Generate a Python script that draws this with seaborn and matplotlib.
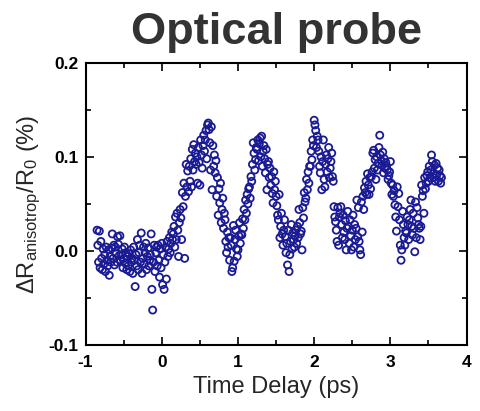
import numpy as np
import pandas as pd
import matplotlib
matplotlib.use("Agg")
import matplotlib.pyplot as plt
import seaborn as sns
from matplotlib.ticker import MultipleLocator

# ---- data ----
t_start = -0.85   # first delay (ps)
t_step = 0.01     # delay step (ps)

signal = [
    # -0.85 .. -0.76
    0.022, 0.006, -0.012, 0.021, -0.018, 0.010, -0.008, -0.020, 0.002, -0.014,
    # -0.75 .. -0.66
    -0.004, -0.022, 0.004, -0.010, -0.016, 0.001, -0.026, -0.006, -0.012, 0.003,
    # -0.65 .. -0.56
    0.018, -0.008, 0.006, -0.015, 0.004, -0.003, -0.012, 0.015, 0.007, -0.005,
    # -0.55 .. -0.46
    0.016, -0.010, -0.004, 0.002, -0.018, -0.008, 0.004, -0.013, -0.002, -0.020,
    # -0.45 .. -0.36
    -0.006, -0.016, -0.003, -0.022, 0.001, -0.012, -0.008, -0.024, 0.004, -0.010,
    # -0.35 .. -0.26
    -0.038, -0.004, -0.016, 0.012, -0.020, -0.002, 0.006, -0.012, 0.019, -0.024,
    # -0.25 .. -0.16
    -0.008, 0.004, -0.014, -0.002, 0.008, -0.020, -0.006, 0.003, -0.016, -0.010,
    # -0.15 .. -0.06
    -0.004, 0.018, -0.041, -0.063, -0.012, 0.006, -0.022, -0.002, 0.004, -0.016,
    # -0.05 .. 0.04
    0.006, -0.010, -0.028, 0.002, -0.018, 0.008, -0.036, -0.004, -0.041, -0.012,
    # 0.05 .. 0.14
    0.004, -0.030, 0.010, -0.006, 0.002, 0.014, -0.002, 0.008, 0.020, 0.012,
    # 0.15 .. 0.24
    0.018, 0.026, 0.004, 0.036, 0.012, 0.040, 0.022, -0.006, 0.030, 0.044,
    # 0.25 .. 0.34
    0.035, 0.012, 0.062, 0.047, 0.072, -0.008, 0.058, 0.092, 0.068, 0.085,
    # 0.35 .. 0.44
    0.063, 0.090, 0.074, 0.098, 0.068, 0.108, 0.086, 0.113, 0.095, 0.104,
    # 0.45 .. 0.54
    0.092, 0.100, 0.072, 0.110, 0.094, 0.070, 0.118, 0.102, 0.088, 0.112,
    # 0.55 .. 0.64
    0.123, 0.106, 0.118, 0.128, 0.098, 0.134, 0.136, 0.129, 0.115, 0.086,
    # 0.65 .. 0.74
    0.132, 0.065, 0.112, 0.090, 0.102, 0.083, 0.096, 0.058, 0.078, 0.038,
    # 0.75 .. 0.84
    0.066, 0.051, 0.072, 0.030, 0.044, 0.056, 0.024, 0.040, 0.033, 0.010,
    # 0.85 .. 0.94
    -0.002, 0.020, 0.004, 0.014, -0.010, 0.014, 0.006, -0.022, -0.018, 0.027,
    # 0.95 .. 1.04
    -0.011, 0.012, 0.022, 0.002, -0.006, 0.001, 0.016, 0.030, 0.008, 0.018,
    # 1.05 .. 1.14
    0.017, 0.034, 0.024, 0.044, 0.033, 0.054, 0.040, 0.060, 0.050, 0.066,
    # 1.15 .. 1.24
    0.068, 0.056, 0.079, 0.074, 0.092, 0.115, 0.104, 0.086, 0.097, 0.110,
    # 1.25 .. 1.34
    0.108, 0.118, 0.096, 0.114, 0.120, 0.100, 0.122, 0.090, 0.106, 0.112,
    # 1.35 .. 1.44
    0.098, 0.083, 0.108, 0.065, 0.092, 0.095, 0.078, 0.088, 0.070, 0.079,
    # 1.45 .. 1.54
    0.061, 0.051, 0.084, 0.065, 0.074, 0.058, 0.048, 0.038, 0.033, 0.060,
    # 1.55 .. 1.64
    0.014, 0.026, 0.040, 0.018, 0.006, 0.022, 0.033, 0.015, -0.002, 0.008,
    # 1.65 .. 1.74
    -0.015, 0.022, -0.022, -0.004, 0.010, 0.028, 0.002, 0.019, 0.012, 0.004,
    # 1.75 .. 1.84
    0.016, 0.022, 0.008, 0.026, 0.014, 0.044, 0.030, 0.018, 0.021, 0.001,
    # 1.85 .. 1.94
    0.046, 0.035, 0.062, 0.052, 0.056, 0.076, 0.065, 0.084, 0.072, 0.090,
    # 1.95 .. 2.04
    0.090, 0.106, 0.097, 0.118, 0.112, 0.139, 0.134, 0.128, 0.110, 0.122,
    # 2.05 .. 2.14
    0.118, 0.106, 0.090, 0.083, 0.100, 0.065, 0.095, 0.118, 0.076, 0.068,
    # 2.15 .. 2.24
    0.092, 0.102, 0.084, 0.098, 0.110, 0.078, 0.088, 0.095, 0.104, 0.079,
    # 2.25 .. 2.34
    0.074, 0.047, 0.036, 0.031, 0.022, 0.010, 0.046, 0.006, 0.036, 0.040,
    # 2.35 .. 2.44
    0.047, 0.028, 0.014, 0.038, 0.020, 0.012, 0.032, 0.001, 0.024, 0.042,
    # 2.45 .. 2.54
    0.026, 0.008, 0.033, 0.016, 0.001, 0.022, 0.038, 0.004, 0.028, 0.012,
    # 2.55 .. 2.64
    0.024, 0.054, 0.015, 0.046, 0.010, 0.001, -0.004, 0.052, 0.020, 0.058,
    # 2.65 .. 2.74
    0.044, 0.067, 0.062, 0.074, 0.060, 0.082, 0.070, 0.060, 0.078, 0.066,
    # 2.75 .. 2.84
    0.079, 0.084, 0.104, 0.107, 0.088, 0.097, 0.076, 0.100, 0.086, 0.093,
    # 2.85 .. 2.94
    0.110, 0.123, 0.102, 0.096, 0.091, 0.105, 0.083, 0.098, 0.088, 0.094,
    # 2.95 .. 3.04
    0.090, 0.086, 0.076, 0.080, 0.084, 0.095, 0.072, 0.060, 0.070, 0.058,
    # 3.05 .. 3.14
    0.064, 0.049, 0.036, 0.021, 0.068, 0.047, 0.061, 0.033, 0.006, -0.010,
    # 3.15 .. 3.24
    0.001, 0.042, 0.028, 0.014, 0.006, 0.021, 0.019, 0.036, 0.028, 0.012,
    # 3.25 .. 3.34
    0.033, 0.044, 0.054, 0.026, 0.017, 0.040, 0.024, -0.001, 0.052, 0.014,
    # 3.35 .. 3.44
    0.046, 0.035, 0.028, 0.024, 0.012, 0.026, 0.070, 0.058, 0.064, 0.040,
    # 3.45 .. 3.54
    0.078, 0.066, 0.072, 0.080, 0.084, 0.074, 0.090, 0.078, 0.086, 0.102,
    # 3.55 .. 3.67
    0.095, 0.082, 0.078, 0.091, 0.074, 0.093, 0.081, 0.088, 0.074, 0.086, 0.080, 0.072, 0.078,
]

delay = np.round(t_start + t_step * np.arange(len(signal)), 2)

x_ticks = [-1, 0, 1, 2, 3, 4]
y_ticks = [-0.1, 0.0, 0.1, 0.2]
y_tick_labels = ["-0.1", "0.0", "0.1", "0.2"]

df = pd.DataFrame({"delay": delay, "signal": signal})

# ---- style ----
sns.set_style("ticks")
plt.rcParams["font.family"] = ["Liberation Sans", "DejaVu Sans"]
plt.rcParams["mathtext.default"] = "regular"

fig = plt.figure(figsize=(4.81, 4.11), dpi=100)
ax = fig.add_axes([0.178, 0.161, 0.792, 0.686])

sns.scatterplot(data=df, x="delay", y="signal", ax=ax,
                marker="o", s=26, facecolor="none", edgecolor="#1a1a94",
                linewidth=1.3, legend=False)

ax.set_xlim(-1, 4)
ax.set_ylim(-0.1, 0.2)
ax.set_xticks(x_ticks)
ax.set_xticklabels([str(v) for v in x_ticks])
ax.set_yticks(y_ticks)
ax.set_yticklabels(y_tick_labels)
ax.xaxis.set_minor_locator(MultipleLocator(0.5))
ax.yaxis.set_minor_locator(MultipleLocator(0.05))

ax.tick_params(which="both", direction="in", top=True, right=True,
               width=1.2, colors="black")
ax.tick_params(which="major", length=6, labelsize=12.5)
ax.tick_params(axis="x", which="major", pad=7)
ax.tick_params(axis="y", which="major", pad=5)
ax.tick_params(which="minor", length=3.5)
for lab in ax.get_xticklabels() + ax.get_yticklabels():
    lab.set_fontweight("bold")
for sp in ax.spines.values():
    sp.set_visible(True)
    sp.set_linewidth(1.5)
    sp.set_color("black")

ax.set_xlabel("Time Delay (ps)", fontsize=17, labelpad=5)
ax.set_ylabel(r"$\Delta$R$_{anisotrop}$/R$_{0}$ (%)", fontsize=17, labelpad=4)

fig.text(0.574, 0.97, "Optical probe", ha="center", va="top",
         fontsize=32.5, fontweight="bold", color="#333333")

fig.savefig("out.png", dpi=100)
